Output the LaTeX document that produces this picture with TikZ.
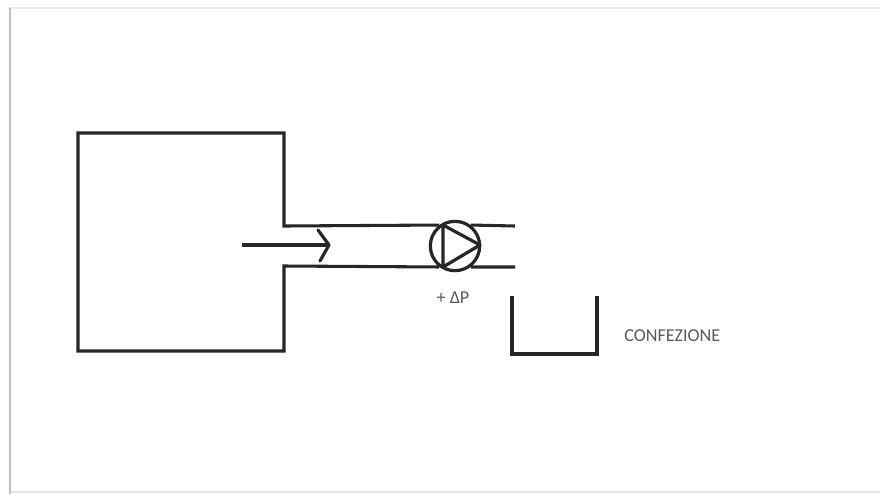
\documentclass[tikz,border=0pt]{standalone}
\usepackage{fontspec}
\setmainfont{Carlito}
\definecolor{labelgray}{HTML}{595959}
\tikzset{
  x=0.75pt,y=-0.75pt,
  pipe/.style={line width=2.3pt,line join=miter,black!85},
  thinner/.style={line width=2.4pt,line join=round,black!85},
  lbl/.style={text=labelgray,font=\fontsize{13.6pt}{15pt}\selectfont,inner sep=0pt},
  pumpc/.style={circle,draw=black!85,line width=2.4pt,minimum size=37pt,inner sep=0pt}
}
\begin{document}
\begin{tikzpicture}
\useasboundingbox (0,0) rectangle (880,494);
\fill[white] (0,0) rectangle (880,494);
% sheet edge
\fill[black!8] (8,7) rectangle (880,9);
\fill[black!25] (9,8) rectangle (11,494);
\fill[black!10] (11,491) rectangle (880,493);
% named points
\coordinate (upEnd) at (515,226);
\coordinate (lowEnd) at (515,267);
\coordinate (arrS) at (242,245);
\coordinate (arrE) at (329,245);
\node[pumpc] (pump) at (455,246) {};
% tank with outlet pipe
\draw[pipe] (pump.127) -- (284,226) -- (284,133) -- (78,133) -- (78,351) -- (284,351) -- (284,266) -- (pump.233);
\draw[pipe] (pump.53) -- (upEnd);
\draw[pipe] (pump.307) -- (lowEnd);
% pump triangle
\draw[thinner] (443,225) -- (443,267) -- (480,245) -- cycle;
% flow arrow
\draw[thinner] (arrS) -- (arrE);
\draw[thinner,line cap=round] (318,230) -- (arrE) -- (320,261);
% container
\draw[pipe] (512,296) -- (512,354) -- (597,354) -- (597,296);
% labels
\node[lbl,anchor=center] (dp) at (453,298) {+ ΔP};
\node[lbl,anchor=west] (conf) at (624,336) {CONFEZIONE};
\end{tikzpicture}
\end{document}
